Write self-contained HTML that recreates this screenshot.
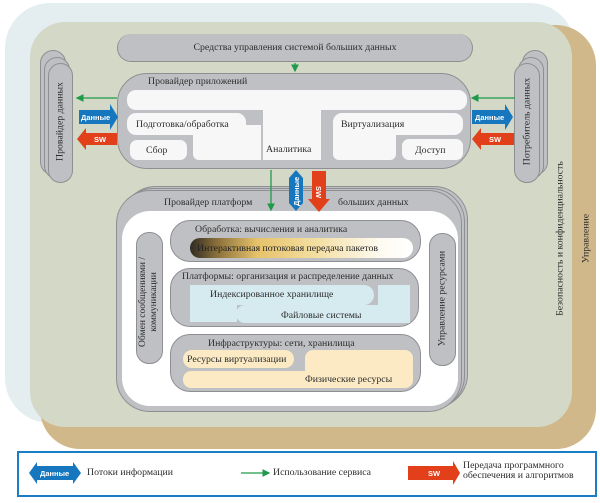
<!DOCTYPE html>
<html><head><meta charset="utf-8"><style>
*{box-sizing:border-box;margin:0;padding:0}
body{width:600px;height:503px;background:#fff;position:relative;overflow:hidden;font-family:"Liberation Serif",serif;color:#333}
.a{position:absolute}
.g{background:#bfc0c3;border:1px solid #8e8f92}
.w{background:#f7f7f8}
.t{position:absolute;font-size:9.8px;white-space:nowrap;color:#2d2d2d}
.v{position:absolute;transform:rotate(-90deg);transform-origin:center;white-space:nowrap;font-size:9.8px;color:#2d2d2d}
</style></head><body>
<div class="a" style="left:5px;top:3px;width:570px;height:420px;background:#e4eef1;border-radius:45px"></div>
<div class="a" style="left:40px;top:25px;width:556px;height:424px;background:#d1b88a;border-radius:40px"></div>
<div class="a" style="left:30px;top:22px;width:542px;height:405px;background:#d3d8c7;border-radius:35px"></div>

<div class="v" style="left:460px;top:233px;width:200px;text-align:center">Безопасность и конфиденциальность</div>
<div class="v" style="left:536px;top:233px;width:100px;text-align:center">Управление</div>

<div class="a g" style="left:117px;top:34px;width:356px;height:28px;border-radius:14px;border-top:none"></div>
<div class="t" style="left:117px;top:42px;width:356px;text-align:center">Средства управления системой больших данных</div>

<div class="a g" style="left:40px;top:50px;width:26px;height:125px;border-radius:13px"></div>
<div class="a g" style="left:44px;top:57px;width:26px;height:122px;border-radius:13px"></div>
<div class="a g" style="left:48px;top:63px;width:25px;height:120px;border-radius:13px"></div>
<div class="v" style="left:0px;top:116px;width:120px;text-align:center">Провайдер данных</div>
<div class="a g" style="left:522px;top:50px;width:26px;height:125px;border-radius:13px"></div>
<div class="a g" style="left:518px;top:57px;width:26px;height:122px;border-radius:13px"></div>
<div class="a g" style="left:514px;top:63px;width:26px;height:120px;border-radius:13px"></div>
<div class="v" style="left:467px;top:116px;width:120px;text-align:center">Потребитель данных</div>

<div class="a g" style="left:117px;top:73px;width:354px;height:96px;border-radius:30px"></div>
<div class="t" style="left:148px;top:76px">Провайдер приложений</div>
<div class="a w" style="left:127px;top:90px;width:340px;height:20px;border-radius:9px"></div>
<div class="a w" style="left:263px;top:105px;width:58px;height:55px"></div>
<div class="a w" style="left:127px;top:113px;width:119px;height:22px;border-radius:9px"></div>
<div class="a w" style="left:193px;top:125px;width:68px;height:35px;border-radius:0 0 0 6px"></div>
<div class="a w" style="left:130px;top:140px;width:57px;height:20px;border-radius:7px"></div>
<div class="a w" style="left:333px;top:113px;width:130px;height:22px;border-radius:9px"></div>
<div class="a w" style="left:333px;top:125px;width:63px;height:35px;border-radius:0 0 6px 6px"></div>
<div class="a w" style="left:402px;top:139px;width:61px;height:21px;border-radius:7px"></div>
<div class="t" style="left:136px;top:119px">Подготовка/обработка</div>
<div class="t" style="left:146px;top:145px">Сбор</div>
<div class="t" style="left:266px;top:144px">Аналитика</div>
<div class="t" style="left:341px;top:119px">Виртуализация</div>
<div class="t" style="left:415px;top:145px">Доступ</div>

<div class="a g" style="left:122px;top:186px;width:346px;height:222px;border-radius:34px"></div>
<div class="a g" style="left:119px;top:188px;width:346px;height:222px;border-radius:34px"></div>
<div class="a g" style="left:116px;top:190px;width:346px;height:222px;border-radius:34px"></div>
<div class="t" style="left:164px;top:197px">Провайдер платформ</div>
<div class="t" style="left:338px;top:197px">больших данных</div>
<div class="a" style="left:122px;top:211px;width:336px;height:195px;background:#fff;border-radius:28px"></div>

<div class="a g" style="left:136px;top:232px;width:27px;height:132px;border-radius:13px"></div>
<div class="v" style="left:89px;top:291px;width:120px;text-align:center;line-height:11px;font-size:9.5px">Обмен сообщениями /<br>коммуникации</div>
<div class="a g" style="left:429px;top:233px;width:27px;height:133px;border-radius:13px"></div>
<div class="v" style="left:382px;top:293px;width:120px;text-align:center">Управление ресурсами</div>

<div class="a g" style="left:170px;top:220px;width:251px;height:42px;border-radius:20px"></div>
<div class="t" style="left:195px;top:224px">Обработка: вычисления и аналитика</div>
<div class="a" style="left:190px;top:238px;width:223px;height:20px;border-radius:10px;background:linear-gradient(90deg,#2f2a22 0%,#8a6f3a 12%,#e6c26a 30%,#f3dd9e 55%,#fdfaf0 85%,#fff 100%)"></div>
<div class="t" style="left:197px;top:243px;color:#222">Интерактивная потоковая передача пакетов</div>

<div class="a g" style="left:170px;top:268px;width:249px;height:59px;border-radius:20px"></div>
<div class="t" style="left:182px;top:271px">Платформы: организация и распределение данных</div>
<div class="a" style="left:190px;top:285px;width:184px;height:20px;background:#d6ebf0;border-radius:0 10px 10px 0"></div>
<div class="a" style="left:190px;top:285px;width:47px;height:37px;background:#d6ebf0"></div>
<div class="a" style="left:378px;top:285px;width:32px;height:37px;background:#d6ebf0"></div>
<div class="a" style="left:236px;top:305px;width:174px;height:18px;background:#d6ebf0;border-radius:9px 0 0 9px"></div>
<div class="t" style="left:210px;top:289px">Индексированное хранилище</div>
<div class="t" style="left:281px;top:310px">Файловые системы</div>

<div class="a g" style="left:170px;top:334px;width:251px;height:58px;border-radius:20px"></div>
<div class="t" style="left:208px;top:338px">Инфраструктуры: сети, хранилища</div>
<div class="a" style="left:183px;top:350px;width:111px;height:18px;background:#fbeac4;border-radius:9px"></div>
<div class="a" style="left:305px;top:350px;width:108px;height:37px;background:#fbeac4;border-radius:8px 8px 8px 0"></div>
<div class="a" style="left:183px;top:371px;width:230px;height:17px;background:#fbeac4;border-radius:8px"></div>
<div class="t" style="left:187px;top:354px">Ресурсы виртуализации</div>
<div class="t" style="left:305px;top:374px">Физические ресурсы</div>

<svg class="a" style="left:0;top:0" width="600" height="503">
<defs>
<marker id="gm" markerWidth="6" markerHeight="6" refX="5" refY="3" orient="auto"><path d="M0,0 L6,3 L0,6z" fill="#1e9a4a"/></marker>
</defs>
<g stroke="#1e9a4a" stroke-width="1.3" fill="none">
<line x1="295" y1="63" x2="295" y2="71" marker-end="url(#gm)"/>
<line x1="117" y1="98" x2="77" y2="98" marker-end="url(#gm)"/>
<line x1="515" y1="98" x2="472" y2="98" marker-end="url(#gm)"/>
<line x1="271" y1="170" x2="271" y2="210" marker-end="url(#gm)"/>
<line x1="241" y1="473" x2="269" y2="473" marker-end="url(#gm)"/>
</g>
<path d="M79,110 H110 V104 L118,117 L110,130 V124 H79z" fill="#1677bf"/>
<path d="M472,110 H505 V104 L513,117 L505,130 V124 H472z" fill="#1677bf"/>
<path d="M289,178 L296,170 L303,178 V203 L296,211 L289,203z" fill="#1677bf"/>
<path d="M29,473 L37,462 V466 H73 V462 L81,473 L73,484 V480 H37 V484z" fill="#1677bf"/>
<path d="M117,133 H86 V128 L77,139 L86,150 V145 H117z" fill="#e2401b"/>
<path d="M514,133 H481 V128 L472,139 L481,150 V145 H514z" fill="#e2401b"/>
<path d="M312,171 H326 V199 H330 L319,212 L308,199 H312z" fill="#e2401b"/>
<path d="M408,466 H453 V461 L460,473 L453,485 V480 H408z" fill="#e2401b"/>
<g fill="#fff" font-family="Liberation Sans,sans-serif" font-size="7.5" font-weight="bold">
<text x="81" y="120">Данные</text>
<text x="475" y="120">Данные</text>
<text x="94" y="142">SW</text>
<text x="489" y="142">SW</text>
<text x="40" y="476">Данные</text>
<text x="428" y="476">SW</text>
<text transform="translate(299,206) rotate(-90)">Данные</text>
<text transform="translate(316,186) rotate(90)">SW</text>
</g>
</svg>

<div class="a" style="left:17px;top:451px;width:580px;height:46px;border:2px solid #1a7ec7"></div>
<div class="t" style="left:87px;top:467px">Потоки информации</div>
<div class="t" style="left:273px;top:467px">Использование сервиса</div>
<div class="t" style="left:463px;top:461px;line-height:10px">Передача программного<br>обеспечения и алгоритмов</div>
</body></html>
